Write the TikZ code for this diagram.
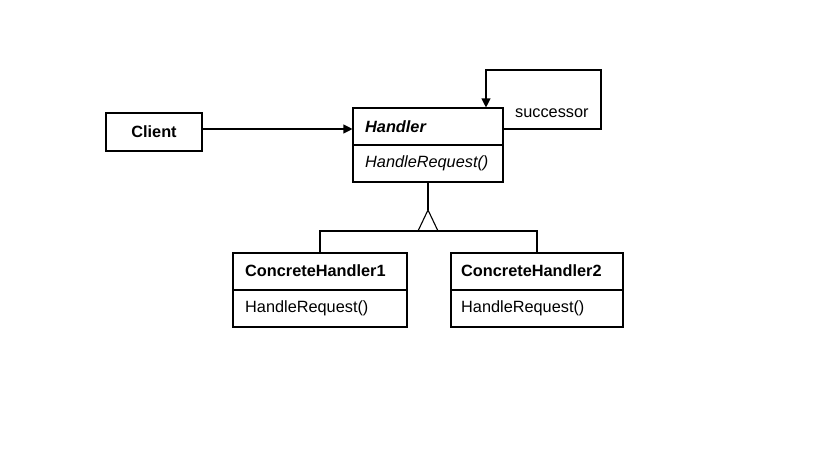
\documentclass[tikz,border=0pt]{standalone}
\usepackage{fontspec}
\setmainfont{Liberation Sans}
\usetikzlibrary{arrows.meta}
\begin{document}
\begin{tikzpicture}[x=1pt,y=-1pt,
  classbox/.style={draw,line width=1.1pt,inner sep=0pt,minimum width=#1},
  conn/.style={line width=1.1pt,line join=miter},
  txt/.style={inner sep=0pt,anchor=west,font=\fontsize{16.3}{18}\selectfont},
  tip/.style={-{Triangle[length=9pt,width=9pt]}}]
\useasboundingbox (0,0) rectangle (819,460);
\fill[white] (0,0) rectangle (819,460);
% Client
\node[classbox=96,minimum height=38] (client) at (154,132) {};
\node[inner sep=0pt,font=\fontsize{16.3}{18}\selectfont\bfseries] (clientlbl) at (client.center) {Client};
% Handler
\node[classbox=150,minimum height=74] (handler) at (428,145) {};
\draw[conn] (handler.west) -- (handler.east);
\node[txt,font=\fontsize{16.3}{18}\selectfont\bfseries\itshape] (hname) at (365,127) {Handler};
\node[txt,font=\fontsize{16.3}{18}\selectfont\itshape] (hop) at (365,163) {HandleRequest()};
% ConcreteHandler1
\node[classbox=174,minimum height=74] (ch1) at (320,290) {};
\draw[conn] (ch1.west) -- (ch1.east);
\node[txt,font=\fontsize{16.3}{18}\selectfont\bfseries] (ch1name) at (245,271) {ConcreteHandler1};
\node[txt] (ch1op) at (245,308) {HandleRequest()};
% ConcreteHandler2
\node[classbox=172,minimum height=74] (ch2) at (537,290) {};
\draw[conn] (ch2.west) -- (ch2.east);
\node[txt,font=\fontsize{16.3}{18}\selectfont\bfseries] (ch2name) at (461,271) {ConcreteHandler2};
\node[txt] (ch2op) at (461,308) {HandleRequest()};
% Client -> Handler
\draw[conn,tip] (client.east |- 0,129) -- (handler.west |- 0,129);
% successor loop
\coordinate (s1) at (601,129);
\coordinate (s2) at (601,70);
\coordinate (s3) at (486,70);
\draw[conn,tip] (handler.east |- s1) -- (s1) -- (s2) -- (s3) -- (s3 |- handler.north);
\node[txt] (succ) at (515,113) {successor};
% inheritance
\coordinate (apex) at (428,210);
\coordinate (bar) at (428,231);
\draw[conn] (handler.south) -- (apex);
\draw[conn] (apex) -- (418,231) -- (438,231) -- cycle;
\draw[conn] (ch1.north) -- (ch1.north |- bar) -- (ch2.north |- bar) -- (ch2.north);
\end{tikzpicture}
\end{document}
